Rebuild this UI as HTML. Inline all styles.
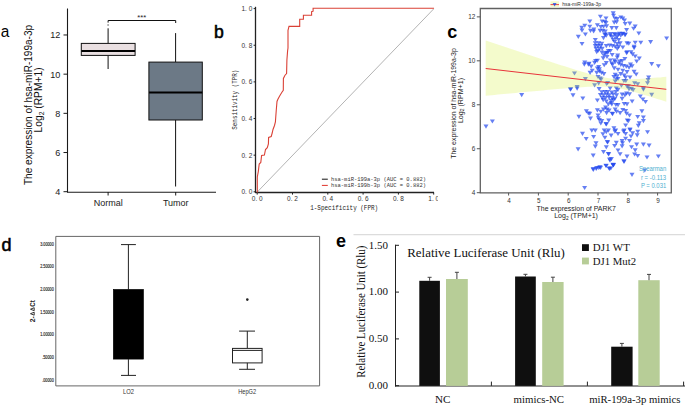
<!DOCTYPE html>
<html><head><meta charset="utf-8"><style>
html,body{margin:0;padding:0;background:#fff;}
body{width:685px;height:407px;overflow:hidden;font-family:"Liberation Sans", sans-serif;}
svg{display:block;}
</style></head><body>
<svg width="685" height="407" viewBox="0 0 685 407">
<rect x="0" y="0" width="685" height="407" fill="#fff"/>
<text x="0.7" y="37.4" font-size="16.9" font-family='"Liberation Sans", sans-serif' fill="#000" textLength="8.6" lengthAdjust="spacingAndGlyphs">a</text>
<line x1="67.5" y1="8.5" x2="67.5" y2="192.2" stroke="#1a1a1a" stroke-width="1.1"/>
<line x1="67" y1="192.2" x2="216" y2="192.2" stroke="#1a1a1a" stroke-width="1.1"/>
<line x1="63.5" y1="191.7" x2="67.5" y2="191.7" stroke="#1a1a1a" stroke-width="1"/>
<text x="60.4" y="195.2" font-size="9.1" font-family='"Liberation Sans", sans-serif' fill="#1a1a1a" text-anchor="end">4</text>
<line x1="63.5" y1="152.51999999999998" x2="67.5" y2="152.51999999999998" stroke="#1a1a1a" stroke-width="1"/>
<text x="60.4" y="156.01999999999998" font-size="9.1" font-family='"Liberation Sans", sans-serif' fill="#1a1a1a" text-anchor="end">6</text>
<line x1="63.5" y1="113.33999999999999" x2="67.5" y2="113.33999999999999" stroke="#1a1a1a" stroke-width="1"/>
<text x="60.4" y="116.83999999999999" font-size="9.1" font-family='"Liberation Sans", sans-serif' fill="#1a1a1a" text-anchor="end">8</text>
<line x1="63.5" y1="74.16" x2="67.5" y2="74.16" stroke="#1a1a1a" stroke-width="1"/>
<text x="60.4" y="77.66" font-size="9.1" font-family='"Liberation Sans", sans-serif' fill="#1a1a1a" text-anchor="end">10</text>
<line x1="63.5" y1="34.97999999999999" x2="67.5" y2="34.97999999999999" stroke="#1a1a1a" stroke-width="1"/>
<text x="60.4" y="38.47999999999999" font-size="9.1" font-family='"Liberation Sans", sans-serif' fill="#1a1a1a" text-anchor="end">12</text>
<line x1="108.1" y1="192" x2="108.1" y2="195.5" stroke="#1a1a1a" stroke-width="1"/>
<line x1="175.7" y1="192" x2="175.7" y2="195.5" stroke="#1a1a1a" stroke-width="1"/>
<text x="108.2" y="206.3" font-size="9" font-family='"Liberation Sans", sans-serif' fill="#222" text-anchor="middle">Normal</text>
<text x="175.8" y="206.3" font-size="9" font-family='"Liberation Sans", sans-serif' fill="#222" text-anchor="middle">Tumor</text>
<line x1="108.1" y1="28.3" x2="108.1" y2="43.3" stroke="#111" stroke-width="1"/>
<line x1="108.1" y1="55.5" x2="108.1" y2="69" stroke="#111" stroke-width="1"/>
<rect x="81.3" y="43.4" width="53.8" height="12" fill="#e9dfe1" stroke="#111" stroke-width="1"/>
<line x1="81.3" y1="51.0" x2="135.1" y2="51.0" stroke="#000" stroke-width="2"/>
<rect x="107.4" y="24.2" width="1.4" height="1.6" fill="#888"/>
<line x1="175.6" y1="33.1" x2="175.6" y2="62" stroke="#111" stroke-width="1"/>
<line x1="175.6" y1="119.7" x2="175.6" y2="186.5" stroke="#111" stroke-width="1"/>
<rect x="148.9" y="62.1" width="53.4" height="57.9" fill="#6c7986" stroke="#111" stroke-width="1"/>
<line x1="149.1" y1="92.4" x2="202.3" y2="92.4" stroke="#000" stroke-width="2"/>
<path d="M108.1,22.6 V20.5 H175.7 V23" fill="none" stroke="#111" stroke-width="1"/>
<text x="141.8" y="20.0" font-size="7.6" font-family='"Liberation Sans", sans-serif' fill="#222" text-anchor="middle">***</text>
<text x="32.1" y="104.95" font-size="10.1" font-family='"Liberation Sans", sans-serif' fill="#111" text-anchor="middle" textLength="160.2" lengthAdjust="spacingAndGlyphs" transform="rotate(-90 32.1 104.95)">The expression of hsa-miR-199a-3p</text>
<text x="41.8" y="99.95" font-size="10.25" font-family='"Liberation Sans", sans-serif' fill="#111" text-anchor="middle" transform="rotate(-90 41.8 99.95)">Log<tspan font-size="6.8" dy="2">2</tspan><tspan dy="-2"> (RPM+1)</tspan></text>
<text x="214.0" y="37.9" font-size="17.6" font-family='"Liberation Sans", sans-serif' fill="#000" stroke="#000" stroke-width="0.55">b</text>
<line x1="257.2" y1="192.10000000000002" x2="433.7" y2="8.900000000000023" stroke="#aaa" stroke-width="0.9"/>
<line x1="255.5" y1="6.8" x2="255.5" y2="193.0" stroke="#222" stroke-width="1.3"/>
<line x1="255.2" y1="192.5" x2="434" y2="192.5" stroke="#222" stroke-width="1.3"/>
<line x1="253.6" y1="191.8" x2="255.5" y2="191.8" stroke="#222" stroke-width="1"/>
<text x="252.3" y="194.20000000000002" font-size="6.8" font-family='"Liberation Sans", sans-serif' fill="#333" text-anchor="end" textLength="10.8" lengthAdjust="spacingAndGlyphs">0. 0</text>
<line x1="257.2" y1="192.5" x2="257.2" y2="194.6" stroke="#222" stroke-width="1"/>
<text x="257.2" y="201.0" font-size="6.8" font-family='"Liberation Sans", sans-serif' fill="#333" text-anchor="middle" textLength="10.8" lengthAdjust="spacingAndGlyphs">0. 0</text>
<line x1="253.6" y1="155.16000000000003" x2="255.5" y2="155.16000000000003" stroke="#222" stroke-width="1"/>
<text x="252.3" y="157.56000000000003" font-size="6.8" font-family='"Liberation Sans", sans-serif' fill="#333" text-anchor="end" textLength="10.8" lengthAdjust="spacingAndGlyphs">0. 2</text>
<line x1="292.5" y1="192.5" x2="292.5" y2="194.6" stroke="#222" stroke-width="1"/>
<text x="292.5" y="201.0" font-size="6.8" font-family='"Liberation Sans", sans-serif' fill="#333" text-anchor="middle" textLength="10.8" lengthAdjust="spacingAndGlyphs">0. 2</text>
<line x1="253.6" y1="118.52000000000001" x2="255.5" y2="118.52000000000001" stroke="#222" stroke-width="1"/>
<text x="252.3" y="120.92000000000002" font-size="6.8" font-family='"Liberation Sans", sans-serif' fill="#333" text-anchor="end" textLength="10.8" lengthAdjust="spacingAndGlyphs">0. 4</text>
<line x1="327.8" y1="192.5" x2="327.8" y2="194.6" stroke="#222" stroke-width="1"/>
<text x="327.8" y="201.0" font-size="6.8" font-family='"Liberation Sans", sans-serif' fill="#333" text-anchor="middle" textLength="10.8" lengthAdjust="spacingAndGlyphs">0. 4</text>
<line x1="253.6" y1="81.88000000000002" x2="255.5" y2="81.88000000000002" stroke="#222" stroke-width="1"/>
<text x="252.3" y="84.28000000000003" font-size="6.8" font-family='"Liberation Sans", sans-serif' fill="#333" text-anchor="end" textLength="10.8" lengthAdjust="spacingAndGlyphs">0. 6</text>
<line x1="363.09999999999997" y1="192.5" x2="363.09999999999997" y2="194.6" stroke="#222" stroke-width="1"/>
<text x="363.09999999999997" y="201.0" font-size="6.8" font-family='"Liberation Sans", sans-serif' fill="#333" text-anchor="middle" textLength="10.8" lengthAdjust="spacingAndGlyphs">0. 6</text>
<line x1="253.6" y1="45.24000000000001" x2="255.5" y2="45.24000000000001" stroke="#222" stroke-width="1"/>
<text x="252.3" y="47.64000000000001" font-size="6.8" font-family='"Liberation Sans", sans-serif' fill="#333" text-anchor="end" textLength="10.8" lengthAdjust="spacingAndGlyphs">0. 8</text>
<line x1="398.4" y1="192.5" x2="398.4" y2="194.6" stroke="#222" stroke-width="1"/>
<text x="398.4" y="201.0" font-size="6.8" font-family='"Liberation Sans", sans-serif' fill="#333" text-anchor="middle" textLength="10.8" lengthAdjust="spacingAndGlyphs">0. 8</text>
<line x1="253.6" y1="8.600000000000023" x2="255.5" y2="8.600000000000023" stroke="#222" stroke-width="1"/>
<text x="252.3" y="11.000000000000023" font-size="6.8" font-family='"Liberation Sans", sans-serif' fill="#333" text-anchor="end" textLength="10.8" lengthAdjust="spacingAndGlyphs">1. 0</text>
<line x1="433.7" y1="192.5" x2="433.7" y2="194.6" stroke="#222" stroke-width="1"/>
<text x="433.7" y="201.0" font-size="6.8" font-family='"Liberation Sans", sans-serif' fill="#333" text-anchor="middle" textLength="10.8" lengthAdjust="spacingAndGlyphs">1. 0</text>
<text x="344.2" y="210.0" font-size="7.8" font-family='"Liberation Mono", monospace' fill="#222" text-anchor="middle" textLength="68" lengthAdjust="spacingAndGlyphs">1-Specificity (FPR)</text>
<text x="236.9" y="99.7" font-size="7.8" font-family='"Liberation Mono", monospace' fill="#222" text-anchor="middle" textLength="60" lengthAdjust="spacingAndGlyphs" transform="rotate(-90 236.9 99.7)">Sensitivity (TPR)</text>
<path d="M257.3,192.5 L257.3,177 L258.3,171.6 L259.2,164 L260.8,162.4 L261.6,155.5 L264.4,155 L265.5,149.5 L267.3,147.6 L268.4,144 L268.6,137.5 L271.2,136.5 L272.2,133 L273,129.5 L274.5,125.5 L275.4,122 L276.2,111 L277,101.5 L277.9,99.2 L279.5,96.2 L281.9,92.3 L283.3,90.3 L283.4,78.5 L285,75.2 L286.6,73.6 L286.9,60 L287.6,50.9 L288,48 L288,30.3 L289,26.4 L299.7,26.4 L299.7,19.3 L303.4,19.3 L303.4,15.3 L311.6,15.3 L311.6,11.6 L313.1,11.2 L313.1,8.3 L434,8.3" fill="none" stroke="#da4136" stroke-width="1.1"/>
<line x1="321.9" y1="179.2" x2="327.8" y2="179.2" stroke="#111" stroke-width="1"/>
<line x1="321.9" y1="185.4" x2="327.8" y2="185.4" stroke="#e0332a" stroke-width="1"/>
<text x="331" y="181.3" font-size="5.8" font-family='"Liberation Mono", monospace' fill="#333" textLength="95" lengthAdjust="spacingAndGlyphs">hsa-miR-199a-3p (AUC = 0.882)</text>
<text x="331" y="187.4" font-size="5.8" font-family='"Liberation Mono", monospace' fill="#333" textLength="95" lengthAdjust="spacingAndGlyphs">hsa-miR-199b-3p (AUC = 0.882)</text>
<rect x="437.8" y="0" width="247.2" height="232" fill="#fff" stroke="none" stroke-width="1"/>
<line x1="353.5" y1="234.6" x2="685" y2="234.6" stroke="#dcdcdc" stroke-width="1.2"/>
<g fill="#2449ee" fill-opacity="0.7"><path d="M582.3,23.7h5l-2.5,4.1z"/><path d="M579.2,25.7h5l-2.5,4.1z"/><path d="M579.5,28.6h5l-2.5,4.1z"/><path d="M582.9,32.4h5l-2.5,4.1z"/><path d="M575.8,34.8h5l-2.5,4.1z"/><path d="M579.5,42.0h5l-2.5,4.1z"/><path d="M627.3,21.6h5l-2.5,4.1z"/><path d="M632.7,24.5h5l-2.5,4.1z"/><path d="M631.1,26.7h5l-2.5,4.1z"/><path d="M636.3,31.4h5l-2.5,4.1z"/><path d="M664.1,36.5h5l-2.5,4.1z"/><path d="M648.1,40.1h5l-2.5,4.1z"/><path d="M638.3,40.7h5l-2.5,4.1z"/><path d="M632.7,40.7h5l-2.5,4.1z"/><path d="M626.3,41.7h5l-2.5,4.1z"/><path d="M631.6,44.8h5l-2.5,4.1z"/><path d="M582.3,60.6h5l-2.5,4.1z"/><path d="M581.8,62.6h5l-2.5,4.1z"/><path d="M585.9,62.6h5l-2.5,4.1z"/><path d="M572.0,71.4h5l-2.5,4.1z"/><path d="M582.9,77.1h5l-2.5,4.1z"/><path d="M574.6,85.1h5l-2.5,4.1z"/><path d="M568.2,87.2h5l-2.5,4.1z"/><path d="M631.6,46.1h5l-2.5,4.1z"/><path d="M628.5,50.2h5l-2.5,4.1z"/><path d="M630.1,52.3h5l-2.5,4.1z"/><path d="M632.7,54.4h5l-2.5,4.1z"/><path d="M636.8,56.4h5l-2.5,4.1z"/><path d="M634.2,59.5h5l-2.5,4.1z"/><path d="M628.0,62.6h5l-2.5,4.1z"/><path d="M629.6,64.2h5l-2.5,4.1z"/><path d="M626.5,65.7h5l-2.5,4.1z"/><path d="M649.2,62.1h5l-2.5,4.1z"/><path d="M655.9,64.2h5l-2.5,4.1z"/><path d="M631.6,69.8h5l-2.5,4.1z"/><path d="M633.7,72.4h5l-2.5,4.1z"/><path d="M627.5,75.5h5l-2.5,4.1z"/><path d="M646.1,75.5h5l-2.5,4.1z"/><path d="M645.6,78.1h5l-2.5,4.1z"/><path d="M632.1,81.2h5l-2.5,4.1z"/><path d="M635.2,82.2h5l-2.5,4.1z"/><path d="M645.0,81.2h5l-2.5,4.1z"/><path d="M625.9,84.3h5l-2.5,4.1z"/><path d="M629.0,86.8h5l-2.5,4.1z"/><path d="M640.9,86.3h5l-2.5,4.1z"/><path d="M567.9,87.6h5l-2.5,4.1z"/><path d="M574.6,86.6h5l-2.5,4.1z"/><path d="M570.5,93.3h5l-2.5,4.1z"/><path d="M580.3,96.4h5l-2.5,4.1z"/><path d="M583.9,109.3h5l-2.5,4.1z"/><path d="M585.9,111.4h5l-2.5,4.1z"/><path d="M576.4,114.8h5l-2.5,4.1z"/><path d="M626.5,87.1h5l-2.5,4.1z"/><path d="M630.6,88.1h5l-2.5,4.1z"/><path d="M640.9,87.6h5l-2.5,4.1z"/><path d="M649.2,92.8h5l-2.5,4.1z"/><path d="M627.0,92.3h5l-2.5,4.1z"/><path d="M637.8,94.4h5l-2.5,4.1z"/><path d="M640.4,97.4h5l-2.5,4.1z"/><path d="M643.0,100.0h5l-2.5,4.1z"/><path d="M629.6,99.5h5l-2.5,4.1z"/><path d="M627.0,113.4h5l-2.5,4.1z"/><path d="M639.4,109.3h5l-2.5,4.1z"/><path d="M635.2,115.0h5l-2.5,4.1z"/><path d="M640.9,115.5h5l-2.5,4.1z"/><path d="M640.9,119.1h5l-2.5,4.1z"/><path d="M625.9,119.1h5l-2.5,4.1z"/><path d="M636.8,121.2h5l-2.5,4.1z"/><path d="M635.8,123.8h5l-2.5,4.1z"/><path d="M627.5,127.4h5l-2.5,4.1z"/><path d="M580.0,131.8h5l-2.5,4.1z"/><path d="M583.7,136.9h5l-2.5,4.1z"/><path d="M575.6,147.3h5l-2.5,4.1z"/><path d="M607.1,157.6h5l-2.5,4.1z"/><path d="M603.5,163.8h5l-2.5,4.1z"/><path d="M606.6,166.4h5l-2.5,4.1z"/><path d="M610.7,162.8h5l-2.5,4.1z"/><path d="M590.6,166.9h5l-2.5,4.1z"/><path d="M594.2,165.9h5l-2.5,4.1z"/><path d="M597.3,165.3h5l-2.5,4.1z"/><path d="M627.5,128.2h5l-2.5,4.1z"/><path d="M630.1,131.3h5l-2.5,4.1z"/><path d="M628.5,134.4h5l-2.5,4.1z"/><path d="M635.2,129.7h5l-2.5,4.1z"/><path d="M634.7,133.3h5l-2.5,4.1z"/><path d="M645.0,130.2h5l-2.5,4.1z"/><path d="M627.0,139.0h5l-2.5,4.1z"/><path d="M634.2,142.6h5l-2.5,4.1z"/><path d="M640.9,142.6h5l-2.5,4.1z"/><path d="M646.6,143.6h5l-2.5,4.1z"/><path d="M629.0,145.2h5l-2.5,4.1z"/><path d="M632.7,148.3h5l-2.5,4.1z"/><path d="M632.1,152.4h5l-2.5,4.1z"/><path d="M635.2,154.0h5l-2.5,4.1z"/><path d="M644.5,155.5h5l-2.5,4.1z"/><path d="M655.9,154.5h5l-2.5,4.1z"/><path d="M621.3,159.6h5l-2.5,4.1z"/><path d="M608.9,157.1h5l-2.5,4.1z"/><path d="M610.5,163.2h5l-2.5,4.1z"/><path d="M590.8,167.9h5l-2.5,4.1z"/><path d="M593.7,167.0h5l-2.5,4.1z"/><path d="M596.2,166.0h5l-2.5,4.1z"/><path d="M598.1,165.8h5l-2.5,4.1z"/><path d="M603.6,164.0h5l-2.5,4.1z"/><path d="M607.0,167.0h5l-2.5,4.1z"/><path d="M610.9,163.5h5l-2.5,4.1z"/><path d="M607.5,158.6h5l-2.5,4.1z"/><path d="M582.1,185.9h5l-2.5,4.1z"/><path d="M621.7,159.6h5l-2.5,4.1z"/><path d="M610.9,163.0h5l-2.5,4.1z"/><path d="M608.4,166.5h5l-2.5,4.1z"/><path d="M629.5,172.8h5l-2.5,4.1z"/><path d="M642.3,168.4h5l-2.5,4.1z"/><path d="M483.5,124.6h5l-2.5,4.1z"/><path d="M489.9,119.4h5l-2.5,4.1z"/><path d="M519.2,93.1h5l-2.5,4.1z"/><path d="M587.3,19.5h5l-2.5,4.1z"/><path d="M587.3,24.7h5l-2.5,4.1z"/><path d="M588.0,28.8h5l-2.5,4.1z"/><path d="M591.4,27.4h5l-2.5,4.1z"/><path d="M591.1,29.5h5l-2.5,4.1z"/><path d="M597.9,14.7h5l-2.5,4.1z"/><path d="M603.5,16.4h5l-2.5,4.1z"/><path d="M599.7,19.5h5l-2.5,4.1z"/><path d="M602.4,19.9h5l-2.5,4.1z"/><path d="M603.5,20.9h5l-2.5,4.1z"/><path d="M594.9,23.3h5l-2.5,4.1z"/><path d="M598.3,25.0h5l-2.5,4.1z"/><path d="M601.0,24.7h5l-2.5,4.1z"/><path d="M604.1,24.3h5l-2.5,4.1z"/><path d="M597.6,28.8h5l-2.5,4.1z"/><path d="M600.4,28.8h5l-2.5,4.1z"/><path d="M602.8,29.5h5l-2.5,4.1z"/><path d="M602.8,32.3h5l-2.5,4.1z"/><path d="M610.7,11.3h5l-2.5,4.1z"/><path d="M611.0,13.7h5l-2.5,4.1z"/><path d="M612.4,16.4h5l-2.5,4.1z"/><path d="M611.7,20.6h5l-2.5,4.1z"/><path d="M614.1,20.2h5l-2.5,4.1z"/><path d="M614.8,17.1h5l-2.5,4.1z"/><path d="M618.3,15.4h5l-2.5,4.1z"/><path d="M620.3,16.4h5l-2.5,4.1z"/><path d="M622.0,18.5h5l-2.5,4.1z"/><path d="M622.7,21.9h5l-2.5,4.1z"/><path d="M609.3,26.1h5l-2.5,4.1z"/><path d="M613.8,26.1h5l-2.5,4.1z"/><path d="M624.1,28.1h5l-2.5,4.1z"/><path d="M607.9,32.1h5l-2.5,4.1z"/><path d="M611.9,31.9h5l-2.5,4.1z"/><path d="M615.9,32.4h5l-2.5,4.1z"/><path d="M619.9,31.9h5l-2.5,4.1z"/><path d="M622.9,32.6h5l-2.5,4.1z"/><path d="M603.9,33.6h5l-2.5,4.1z"/><path d="M602.4,33.1h5l-2.5,4.1z"/><path d="M601.0,36.1h5l-2.5,4.1z"/><path d="M607.9,33.6h5l-2.5,4.1z"/><path d="M609.7,35.1h5l-2.5,4.1z"/><path d="M612.7,32.9h5l-2.5,4.1z"/><path d="M614.8,34.4h5l-2.5,4.1z"/><path d="M616.9,31.7h5l-2.5,4.1z"/><path d="M618.3,33.7h5l-2.5,4.1z"/><path d="M620.3,31.7h5l-2.5,4.1z"/><path d="M622.4,33.1h5l-2.5,4.1z"/><path d="M613.4,36.5h5l-2.5,4.1z"/><path d="M610.7,37.9h5l-2.5,4.1z"/><path d="M616.2,37.9h5l-2.5,4.1z"/><path d="M592.8,37.9h5l-2.5,4.1z"/><path d="M592.8,41.3h5l-2.5,4.1z"/><path d="M596.2,41.3h5l-2.5,4.1z"/><path d="M599.3,41.7h5l-2.5,4.1z"/><path d="M592.8,44.1h5l-2.5,4.1z"/><path d="M595.5,44.1h5l-2.5,4.1z"/><path d="M598.3,44.1h5l-2.5,4.1z"/><path d="M593.5,46.8h5l-2.5,4.1z"/><path d="M596.9,46.8h5l-2.5,4.1z"/><path d="M599.7,46.8h5l-2.5,4.1z"/><path d="M595.5,48.9h5l-2.5,4.1z"/><path d="M603.8,44.1h5l-2.5,4.1z"/><path d="M607.2,43.4h5l-2.5,4.1z"/><path d="M610.0,44.1h5l-2.5,4.1z"/><path d="M612.7,44.8h5l-2.5,4.1z"/><path d="M614.8,42.0h5l-2.5,4.1z"/><path d="M617.6,41.3h5l-2.5,4.1z"/><path d="M616.2,44.8h5l-2.5,4.1z"/><path d="M620.3,45.4h5l-2.5,4.1z"/><path d="M612.1,39.9h5l-2.5,4.1z"/><path d="M614.8,46.8h5l-2.5,4.1z"/><path d="M605.9,48.9h5l-2.5,4.1z"/><path d="M607.9,48.9h5l-2.5,4.1z"/><path d="M603.8,51.0h5l-2.5,4.1z"/><path d="M624.5,41.3h5l-2.5,4.1z"/><path d="M624.5,50.3h5l-2.5,4.1z"/><path d="M594.2,50.1h5l-2.5,4.1z"/><path d="M599.3,50.4h5l-2.5,4.1z"/><path d="M602.4,51.5h5l-2.5,4.1z"/><path d="M605.2,50.8h5l-2.5,4.1z"/><path d="M601.4,53.5h5l-2.5,4.1z"/><path d="M604.5,54.9h5l-2.5,4.1z"/><path d="M600.7,56.3h5l-2.5,4.1z"/><path d="M609.7,52.9h5l-2.5,4.1z"/><path d="M615.2,53.5h5l-2.5,4.1z"/><path d="M614.8,55.6h5l-2.5,4.1z"/><path d="M624.1,51.1h5l-2.5,4.1z"/><path d="M622.4,57.0h5l-2.5,4.1z"/><path d="M593.1,59.1h5l-2.5,4.1z"/><path d="M592.1,60.8h5l-2.5,4.1z"/><path d="M594.9,58.7h5l-2.5,4.1z"/><path d="M607.9,58.4h5l-2.5,4.1z"/><path d="M612.1,58.4h5l-2.5,4.1z"/><path d="M612.7,60.1h5l-2.5,4.1z"/><path d="M609.3,61.5h5l-2.5,4.1z"/><path d="M617.2,59.4h5l-2.5,4.1z"/><path d="M619.6,59.1h5l-2.5,4.1z"/><path d="M616.2,61.5h5l-2.5,4.1z"/><path d="M603.8,61.1h5l-2.5,4.1z"/><path d="M601.7,63.2h5l-2.5,4.1z"/><path d="M586.6,61.8h5l-2.5,4.1z"/><path d="M588.7,64.6h5l-2.5,4.1z"/><path d="M610.0,62.8h5l-2.5,4.1z"/><path d="M611.7,66.3h5l-2.5,4.1z"/><path d="M618.3,62.8h5l-2.5,4.1z"/><path d="M621.0,63.9h5l-2.5,4.1z"/><path d="M623.8,64.6h5l-2.5,4.1z"/><path d="M596.2,64.9h5l-2.5,4.1z"/><path d="M594.9,66.6h5l-2.5,4.1z"/><path d="M596.9,67.3h5l-2.5,4.1z"/><path d="M596.9,69.4h5l-2.5,4.1z"/><path d="M599.0,70.8h5l-2.5,4.1z"/><path d="M601.4,72.1h5l-2.5,4.1z"/><path d="M589.7,68.7h5l-2.5,4.1z"/><path d="M587.6,70.8h5l-2.5,4.1z"/><path d="M594.2,70.8h5l-2.5,4.1z"/><path d="M615.5,67.7h5l-2.5,4.1z"/><path d="M620.3,68.7h5l-2.5,4.1z"/><path d="M624.5,70.1h5l-2.5,4.1z"/><path d="M612.7,72.8h5l-2.5,4.1z"/><path d="M611.4,74.9h5l-2.5,4.1z"/><path d="M614.8,74.2h5l-2.5,4.1z"/><path d="M618.3,72.1h5l-2.5,4.1z"/><path d="M621.7,73.5h5l-2.5,4.1z"/><path d="M623.1,75.6h5l-2.5,4.1z"/><path d="M595.5,74.9h5l-2.5,4.1z"/><path d="M597.6,76.6h5l-2.5,4.1z"/><path d="M615.5,77.0h5l-2.5,4.1z"/><path d="M598.6,77.5h5l-2.5,4.1z"/><path d="M596.2,81.3h5l-2.5,4.1z"/><path d="M592.1,83.3h5l-2.5,4.1z"/><path d="M605.2,80.9h5l-2.5,4.1z"/><path d="M604.1,82.0h5l-2.5,4.1z"/><path d="M613.8,77.5h5l-2.5,4.1z"/><path d="M612.7,79.5h5l-2.5,4.1z"/><path d="M621.4,78.9h5l-2.5,4.1z"/><path d="M623.4,78.9h5l-2.5,4.1z"/><path d="M618.9,83.7h5l-2.5,4.1z"/><path d="M624.5,84.4h5l-2.5,4.1z"/><path d="M596.6,87.1h5l-2.5,4.1z"/><path d="M607.6,86.4h5l-2.5,4.1z"/><path d="M613.8,86.4h5l-2.5,4.1z"/><path d="M615.5,87.8h5l-2.5,4.1z"/><path d="M599.3,90.2h5l-2.5,4.1z"/><path d="M602.4,89.9h5l-2.5,4.1z"/><path d="M605.2,89.9h5l-2.5,4.1z"/><path d="M609.3,90.6h5l-2.5,4.1z"/><path d="M613.4,89.9h5l-2.5,4.1z"/><path d="M597.9,93.0h5l-2.5,4.1z"/><path d="M601.0,93.3h5l-2.5,4.1z"/><path d="M604.1,92.6h5l-2.5,4.1z"/><path d="M606.6,93.3h5l-2.5,4.1z"/><path d="M610.7,92.6h5l-2.5,4.1z"/><path d="M614.1,93.3h5l-2.5,4.1z"/><path d="M599.7,96.1h5l-2.5,4.1z"/><path d="M603.1,96.1h5l-2.5,4.1z"/><path d="M606.6,95.7h5l-2.5,4.1z"/><path d="M609.7,96.1h5l-2.5,4.1z"/><path d="M612.4,96.8h5l-2.5,4.1z"/><path d="M600.7,98.1h5l-2.5,4.1z"/><path d="M603.8,99.5h5l-2.5,4.1z"/><path d="M608.6,98.8h5l-2.5,4.1z"/><path d="M611.0,98.1h5l-2.5,4.1z"/><path d="M608.6,100.9h5l-2.5,4.1z"/><path d="M605.9,102.3h5l-2.5,4.1z"/><path d="M613.4,102.9h5l-2.5,4.1z"/><path d="M594.9,98.5h5l-2.5,4.1z"/><path d="M619.6,92.6h5l-2.5,4.1z"/><path d="M622.4,93.3h5l-2.5,4.1z"/><path d="M624.1,91.6h5l-2.5,4.1z"/><path d="M619.6,96.8h5l-2.5,4.1z"/><path d="M621.7,101.9h5l-2.5,4.1z"/><path d="M624.5,102.3h5l-2.5,4.1z"/><path d="M609.3,102.4h5l-2.5,4.1z"/><path d="M615.5,103.1h5l-2.5,4.1z"/><path d="M603.1,105.5h5l-2.5,4.1z"/><path d="M601.0,107.6h5l-2.5,4.1z"/><path d="M604.5,107.6h5l-2.5,4.1z"/><path d="M606.6,108.6h5l-2.5,4.1z"/><path d="M594.9,108.3h5l-2.5,4.1z"/><path d="M598.3,109.7h5l-2.5,4.1z"/><path d="M604.1,111.1h5l-2.5,4.1z"/><path d="M609.7,111.7h5l-2.5,4.1z"/><path d="M610.1,112.1h5l-2.5,4.1z"/><path d="M612.7,107.6h5l-2.5,4.1z"/><path d="M614.1,109.7h5l-2.5,4.1z"/><path d="M617.6,111.1h5l-2.5,4.1z"/><path d="M620.3,108.0h5l-2.5,4.1z"/><path d="M623.1,109.0h5l-2.5,4.1z"/><path d="M624.1,111.7h5l-2.5,4.1z"/><path d="M587.3,111.7h5l-2.5,4.1z"/><path d="M588.0,116.6h5l-2.5,4.1z"/><path d="M595.5,113.5h5l-2.5,4.1z"/><path d="M595.9,116.2h5l-2.5,4.1z"/><path d="M596.9,117.9h5l-2.5,4.1z"/><path d="M599.3,119.0h5l-2.5,4.1z"/><path d="M598.3,121.4h5l-2.5,4.1z"/><path d="M606.2,118.6h5l-2.5,4.1z"/><path d="M603.5,122.1h5l-2.5,4.1z"/><path d="M603.9,122.5h5l-2.5,4.1z"/><path d="M623.1,123.4h5l-2.5,4.1z"/><path d="M624.8,118.6h5l-2.5,4.1z"/><path d="M611.4,126.2h5l-2.5,4.1z"/><path d="M613.1,128.6h5l-2.5,4.1z"/><path d="M589.3,128.6h5l-2.5,4.1z"/><path d="M592.8,128.6h5l-2.5,4.1z"/><path d="M601.7,128.6h5l-2.5,4.1z"/><path d="M605.9,128.6h5l-2.5,4.1z"/><path d="M621.7,128.6h5l-2.5,4.1z"/><path d="M603.8,130.2h5l-2.5,4.1z"/><path d="M612.4,129.6h5l-2.5,4.1z"/><path d="M615.5,131.9h5l-2.5,4.1z"/><path d="M621.0,129.6h5l-2.5,4.1z"/><path d="M623.1,131.9h5l-2.5,4.1z"/><path d="M600.4,132.2h5l-2.5,4.1z"/><path d="M608.6,133.6h5l-2.5,4.1z"/><path d="M591.1,135.0h5l-2.5,4.1z"/><path d="M602.4,135.7h5l-2.5,4.1z"/><path d="M623.1,136.7h5l-2.5,4.1z"/><path d="M604.8,140.1h5l-2.5,4.1z"/><path d="M605.1,140.5h5l-2.5,4.1z"/><path d="M593.5,141.2h5l-2.5,4.1z"/><path d="M592.8,144.6h5l-2.5,4.1z"/><path d="M613.8,140.8h5l-2.5,4.1z"/><path d="M612.1,143.9h5l-2.5,4.1z"/><path d="M619.6,139.1h5l-2.5,4.1z"/><path d="M620.0,141.2h5l-2.5,4.1z"/><path d="M619.6,144.3h5l-2.5,4.1z"/><path d="M603.8,145.3h5l-2.5,4.1z"/><path d="M601.0,150.1h5l-2.5,4.1z"/><path d="M605.9,151.9h5l-2.5,4.1z"/><path d="M606.2,152.3h5l-2.5,4.1z"/><path d="M615.5,148.4h5l-2.5,4.1z"/><path d="M617.6,152.2h5l-2.5,4.1z"/><path d="M590.7,153.6h5l-2.5,4.1z"/><path d="M624.5,154.6h5l-2.5,4.1z"/></g>
<path d="M485.7,40.6 L488.7,41.6 L491.7,42.6 L494.7,43.6 L497.7,44.6 L500.8,45.6 L503.8,46.6 L506.8,47.6 L509.8,48.6 L512.8,49.6 L515.8,50.5 L518.8,51.5 L521.8,52.5 L524.8,53.5 L527.8,54.5 L530.9,55.5 L533.9,56.5 L536.9,57.4 L539.9,58.4 L542.9,59.4 L545.9,60.4 L548.9,61.3 L551.9,62.3 L554.9,63.3 L557.9,64.2 L560.9,65.2 L564.0,66.1 L567.0,67.1 L570.0,68.0 L573.0,69.0 L576.0,69.9 L579.0,70.8 L582.0,71.7 L585.0,72.6 L588.0,73.5 L591.0,74.3 L594.1,75.1 L597.1,75.9 L600.1,76.6 L603.1,77.3 L606.1,77.8 L609.1,78.3 L612.1,78.7 L615.1,79.0 L618.1,79.2 L621.1,79.3 L624.2,79.4 L627.2,79.4 L630.2,79.3 L633.2,79.2 L636.2,79.1 L639.2,78.9 L642.2,78.7 L645.2,78.5 L648.2,78.3 L651.2,78.1 L654.3,77.8 L657.3,77.6 L660.3,77.4 L663.3,77.1 L666.3,76.8 L666.3,101.8 L663.3,100.8 L660.3,99.8 L657.3,98.9 L654.3,97.9 L651.2,97.0 L648.2,96.1 L645.2,95.2 L642.2,94.3 L639.2,93.4 L636.2,92.5 L633.2,91.7 L630.2,90.9 L627.2,90.1 L624.2,89.4 L621.1,88.7 L618.1,88.1 L615.1,87.6 L612.1,87.2 L609.1,86.9 L606.1,86.7 L603.1,86.6 L600.1,86.5 L597.1,86.5 L594.1,86.6 L591.0,86.7 L588.0,86.8 L585.0,87.0 L582.0,87.2 L579.0,87.4 L576.0,87.6 L573.0,87.8 L570.0,88.1 L567.0,88.3 L564.0,88.5 L560.9,88.8 L557.9,89.0 L554.9,89.3 L551.9,89.6 L548.9,89.8 L545.9,90.1 L542.9,90.4 L539.9,90.7 L536.9,90.9 L533.9,91.2 L530.9,91.5 L527.8,91.8 L524.8,92.0 L521.8,92.3 L518.8,92.6 L515.8,92.9 L512.8,93.2 L509.8,93.5 L506.8,93.7 L503.8,94.0 L500.8,94.3 L497.7,94.6 L494.7,94.9 L491.7,95.2 L488.7,95.5 L485.7,95.8 Z" fill="rgb(211,239,51)" fill-opacity="0.25"/>
<line x1="485.7" y1="68.5" x2="666.3" y2="89.3" stroke="#e8333a" stroke-width="1"/>
<path d="M480.3,8.5 H671.3 V192.8 H480.3 Z" fill="none" stroke="#606060" stroke-width="1.3"/>
<line x1="476.8" y1="192.7" x2="480.3" y2="192.7" stroke="#555" stroke-width="1"/>
<text x="475.3" y="195.0" font-size="6.4" font-family='"Liberation Sans", sans-serif' fill="#333" text-anchor="end">4</text>
<line x1="476.8" y1="148.73999999999998" x2="480.3" y2="148.73999999999998" stroke="#555" stroke-width="1"/>
<text x="475.3" y="151.04" font-size="6.4" font-family='"Liberation Sans", sans-serif' fill="#333" text-anchor="end">6</text>
<line x1="476.8" y1="104.77999999999999" x2="480.3" y2="104.77999999999999" stroke="#555" stroke-width="1"/>
<text x="475.3" y="107.07999999999998" font-size="6.4" font-family='"Liberation Sans", sans-serif' fill="#333" text-anchor="end">8</text>
<line x1="476.8" y1="60.81999999999999" x2="480.3" y2="60.81999999999999" stroke="#555" stroke-width="1"/>
<text x="475.3" y="63.11999999999999" font-size="6.4" font-family='"Liberation Sans", sans-serif' fill="#333" text-anchor="end">10</text>
<line x1="476.8" y1="16.859999999999985" x2="480.3" y2="16.859999999999985" stroke="#555" stroke-width="1"/>
<text x="475.3" y="19.159999999999986" font-size="6.4" font-family='"Liberation Sans", sans-serif' fill="#333" text-anchor="end">12</text>
<line x1="508.6" y1="192.8" x2="508.6" y2="195.5" stroke="#555" stroke-width="1"/>
<text x="509.1" y="202.7" font-size="6.4" font-family='"Liberation Sans", sans-serif' fill="#333" text-anchor="middle">4</text>
<line x1="538.4" y1="192.8" x2="538.4" y2="195.5" stroke="#555" stroke-width="1"/>
<text x="538.9" y="202.7" font-size="6.4" font-family='"Liberation Sans", sans-serif' fill="#333" text-anchor="middle">5</text>
<line x1="568.2" y1="192.8" x2="568.2" y2="195.5" stroke="#555" stroke-width="1"/>
<text x="568.7" y="202.7" font-size="6.4" font-family='"Liberation Sans", sans-serif' fill="#333" text-anchor="middle">6</text>
<line x1="598.0" y1="192.8" x2="598.0" y2="195.5" stroke="#555" stroke-width="1"/>
<text x="598.5" y="202.7" font-size="6.4" font-family='"Liberation Sans", sans-serif' fill="#333" text-anchor="middle">7</text>
<line x1="627.8000000000001" y1="192.8" x2="627.8000000000001" y2="195.5" stroke="#555" stroke-width="1"/>
<text x="628.3000000000001" y="202.7" font-size="6.4" font-family='"Liberation Sans", sans-serif' fill="#333" text-anchor="middle">8</text>
<line x1="657.6" y1="192.8" x2="657.6" y2="195.5" stroke="#555" stroke-width="1"/>
<text x="658.1" y="202.7" font-size="6.4" font-family='"Liberation Sans", sans-serif' fill="#333" text-anchor="middle">9</text>
<text x="576.3" y="211.1" font-size="7.0" font-family='"Liberation Sans", sans-serif' fill="#222" text-anchor="middle" textLength="79.4" lengthAdjust="spacingAndGlyphs">The expression of PARK7</text>
<text x="576.1" y="217.9" font-size="7.0" font-family='"Liberation Sans", sans-serif' fill="#222" text-anchor="middle">Log<tspan font-size="4.8" dy="1.6">2</tspan><tspan dy="-1.6"> (TPM+1)</tspan></text>
<text x="455.9" y="103.45" font-size="7.1" font-family='"Liberation Sans", sans-serif' fill="#222" text-anchor="middle" textLength="110.6" lengthAdjust="spacingAndGlyphs" transform="rotate(-90 455.9 103.45)">The expression of hsa-miR-199a-3p</text>
<text x="462.8" y="100.55" font-size="7.1" font-family='"Liberation Sans", sans-serif' fill="#222" text-anchor="middle" transform="rotate(-90 462.8 100.55)">Log<tspan font-size="4.9" dy="1.6">2</tspan><tspan dy="-1.6"> (RPM+1)</tspan></text>
<text x="447.2" y="38.2" font-size="18" font-family='"Liberation Sans", sans-serif' fill="#000" font-weight="bold">c</text>
<text x="666.2" y="171.1" font-size="6.3" font-family='"Liberation Sans", sans-serif' fill="#4fb0d0" text-anchor="end" textLength="27.3" lengthAdjust="spacingAndGlyphs">Spearman</text>
<text x="666.2" y="179.7" font-size="6.3" font-family='"Liberation Sans", sans-serif' fill="#4fb0d0" text-anchor="end" textLength="25.3" lengthAdjust="spacingAndGlyphs">r = -0.113</text>
<text x="666.2" y="188.3" font-size="6.3" font-family='"Liberation Sans", sans-serif' fill="#4fb0d0" text-anchor="end" textLength="25.3" lengthAdjust="spacingAndGlyphs">P = 0.031</text>
<rect x="550.5" y="1.3" width="8.5" height="6" fill="#f4fbcc" stroke="none" stroke-width="1"/>
<line x1="550.5" y1="4.6" x2="559" y2="4.6" stroke="#e8333a" stroke-width="0.9"/>
<path d="M552.6,2.9h4l-2,3.5z" fill="#2149ee" fill-opacity="0.82"/>
<text x="562.3" y="6.3" font-size="5.0" font-family='"Liberation Sans", sans-serif' fill="#333" textLength="38.8" lengthAdjust="spacingAndGlyphs">hsa-miR-199a-3p</text>
<text x="1.4" y="250.5" font-size="18" font-family='"Liberation Sans", sans-serif' fill="#000" stroke="#000" stroke-width="0.55">d</text>
<path d="M55.8,236.4 H319.6 V385.9 H55.8 Z" fill="none" stroke="#666" stroke-width="1"/>
<text x="53.8" y="381.5" font-size="4.7" font-family='"Liberation Sans", sans-serif' fill="#222" text-anchor="end" textLength="11.6" lengthAdjust="spacingAndGlyphs" stroke="#222" stroke-width="0.15">.00000</text>
<text x="53.8" y="358.85" font-size="4.7" font-family='"Liberation Sans", sans-serif' fill="#222" text-anchor="end" textLength="11.6" lengthAdjust="spacingAndGlyphs" stroke="#222" stroke-width="0.15">.50000</text>
<text x="53.8" y="336.2" font-size="4.7" font-family='"Liberation Sans", sans-serif' fill="#222" text-anchor="end" textLength="13.6" lengthAdjust="spacingAndGlyphs" stroke="#222" stroke-width="0.15">1.00000</text>
<text x="53.8" y="313.55" font-size="4.7" font-family='"Liberation Sans", sans-serif' fill="#222" text-anchor="end" textLength="13.6" lengthAdjust="spacingAndGlyphs" stroke="#222" stroke-width="0.15">1.50000</text>
<text x="53.8" y="290.9" font-size="4.7" font-family='"Liberation Sans", sans-serif' fill="#222" text-anchor="end" textLength="13.6" lengthAdjust="spacingAndGlyphs" stroke="#222" stroke-width="0.15">2.00000</text>
<text x="53.8" y="268.25" font-size="4.7" font-family='"Liberation Sans", sans-serif' fill="#222" text-anchor="end" textLength="13.6" lengthAdjust="spacingAndGlyphs" stroke="#222" stroke-width="0.15">2.50000</text>
<text x="53.8" y="245.60000000000002" font-size="4.7" font-family='"Liberation Sans", sans-serif' fill="#222" text-anchor="end" textLength="13.6" lengthAdjust="spacingAndGlyphs" stroke="#222" stroke-width="0.15">3.00000</text>
<g transform="translate(34.6,322.3) rotate(-90)" fill="#222"><text x="0" y="0" font-size="6.8" font-weight="bold" font-family='"Liberation Sans", sans-serif'>2-</text><path d="M7.1,-0.4 L8.6,-4.1 L10.1,-0.4 Z M11.6,-0.4 L13.1,-4.1 L14.6,-0.4 Z" fill="none" stroke="#222" stroke-width="0.9" stroke-linejoin="round"/><text x="15.6" y="0" font-size="6.8" font-weight="bold" font-family='"Liberation Sans", sans-serif' textLength="6.4" lengthAdjust="spacingAndGlyphs">Ct</text></g>
<line x1="128.4" y1="244.6" x2="128.4" y2="289.4" stroke="#222" stroke-width="1"/>
<line x1="121" y1="244.6" x2="135.9" y2="244.6" stroke="#222" stroke-width="1"/>
<rect x="113.3" y="289.4" width="30.2" height="69.7" fill="#000" stroke="#000" stroke-width="0.6"/>
<line x1="128.4" y1="359.1" x2="128.4" y2="375.4" stroke="#222" stroke-width="1"/>
<line x1="121" y1="375.4" x2="136" y2="375.4" stroke="#222" stroke-width="1"/>
<text x="128.5" y="394.0" font-size="6.9" font-family='"Liberation Sans", sans-serif' fill="#333" text-anchor="middle" textLength="11" lengthAdjust="spacingAndGlyphs">LO2</text>
<circle cx="247.3" cy="299.6" r="1.3" fill="#222"/>
<line x1="247.3" y1="331.1" x2="247.3" y2="348.4" stroke="#222" stroke-width="1"/>
<line x1="239.1" y1="331.1" x2="255" y2="331.1" stroke="#222" stroke-width="1"/>
<rect x="232.5" y="348.4" width="29.6" height="14.5" fill="#fff" stroke="#222" stroke-width="1"/>
<line x1="232.5" y1="350.4" x2="262.1" y2="350.4" stroke="#222" stroke-width="1"/>
<line x1="247.3" y1="362.9" x2="247.3" y2="369.3" stroke="#222" stroke-width="1"/>
<line x1="239.1" y1="369.3" x2="255" y2="369.3" stroke="#222" stroke-width="1"/>
<text x="247.2" y="394.0" font-size="6.9" font-family='"Liberation Sans", sans-serif' fill="#333" text-anchor="middle" textLength="18" lengthAdjust="spacingAndGlyphs">HepG2</text>
<text x="335.9" y="247.0" font-size="18" font-family='"Liberation Sans", sans-serif' fill="#000" font-weight="bold">e</text>
<line x1="395.5" y1="244.7" x2="395.5" y2="386.5" stroke="#222" stroke-width="1"/>
<line x1="395" y1="386" x2="685" y2="386" stroke="#222" stroke-width="1"/>
<line x1="395.5" y1="385.7" x2="399" y2="385.7" stroke="#222" stroke-width="1"/>
<text x="387.9" y="389.0" font-size="11" font-family='"Liberation Serif", serif' fill="#111" text-anchor="end">0.00</text>
<line x1="395.5" y1="338.9" x2="399" y2="338.9" stroke="#222" stroke-width="1"/>
<text x="387.9" y="342.2" font-size="11" font-family='"Liberation Serif", serif' fill="#111" text-anchor="end">0.50</text>
<line x1="395.5" y1="292.1" x2="399" y2="292.1" stroke="#222" stroke-width="1"/>
<text x="387.9" y="295.40000000000003" font-size="11" font-family='"Liberation Serif", serif' fill="#111" text-anchor="end">1.00</text>
<line x1="395.5" y1="245.3" x2="399" y2="245.3" stroke="#222" stroke-width="1"/>
<text x="387.9" y="248.60000000000002" font-size="11" font-family='"Liberation Serif", serif' fill="#111" text-anchor="end">1.50</text>
<line x1="491.4" y1="381.6" x2="491.4" y2="385.9" stroke="#222" stroke-width="1"/>
<line x1="587.4" y1="381.6" x2="587.4" y2="385.9" stroke="#222" stroke-width="1"/>
<line x1="683.6" y1="381.6" x2="683.6" y2="385.9" stroke="#222" stroke-width="1"/>
<text x="407.2" y="256.8" font-size="12.9" font-family='"Liberation Serif", serif' fill="#111" textLength="157.6" lengthAdjust="spacingAndGlyphs">Relative Luciferase Unit (Rlu)</text>
<text x="364.7" y="311.7" font-size="12" font-family='"Liberation Serif", serif' fill="#111" text-anchor="middle" textLength="132" lengthAdjust="spacingAndGlyphs" transform="rotate(-90 364.7 311.7)">Relative Luciferase Unit (Rlu)</text>
<rect x="419.3" y="280.8" width="20.599999999999966" height="105.09999999999997" fill="#0f0f0f" stroke="none" stroke-width="1"/>
<line x1="429.6" y1="277.3" x2="429.6" y2="280.8" stroke="#444" stroke-width="1"/>
<line x1="427.6" y1="277.3" x2="431.6" y2="277.3" stroke="#444" stroke-width="1"/>
<rect x="446.0" y="279.0" width="21.80000000000001" height="106.89999999999998" fill="#b7cd97" stroke="none" stroke-width="1"/>
<line x1="456.9" y1="272.3" x2="456.9" y2="279.0" stroke="#444" stroke-width="1"/>
<line x1="454.9" y1="272.3" x2="458.9" y2="272.3" stroke="#444" stroke-width="1"/>
<rect x="515.1" y="276.5" width="20.699999999999932" height="109.39999999999998" fill="#0f0f0f" stroke="none" stroke-width="1"/>
<line x1="525.45" y1="274.3" x2="525.45" y2="276.5" stroke="#444" stroke-width="1"/>
<line x1="523.45" y1="274.3" x2="527.45" y2="274.3" stroke="#444" stroke-width="1"/>
<rect x="542.2" y="282.0" width="21.399999999999977" height="103.89999999999998" fill="#b7cd97" stroke="none" stroke-width="1"/>
<line x1="552.9000000000001" y1="277.2" x2="552.9000000000001" y2="282.0" stroke="#444" stroke-width="1"/>
<line x1="550.9000000000001" y1="277.2" x2="554.9000000000001" y2="277.2" stroke="#444" stroke-width="1"/>
<rect x="611.2" y="346.7" width="21.399999999999977" height="39.19999999999999" fill="#0f0f0f" stroke="none" stroke-width="1"/>
<line x1="621.9000000000001" y1="343.4" x2="621.9000000000001" y2="346.7" stroke="#444" stroke-width="1"/>
<line x1="619.9000000000001" y1="343.4" x2="623.9000000000001" y2="343.4" stroke="#444" stroke-width="1"/>
<rect x="638.3" y="280.2" width="21.40000000000009" height="105.69999999999999" fill="#b7cd97" stroke="none" stroke-width="1"/>
<line x1="649.0" y1="274.4" x2="649.0" y2="280.2" stroke="#444" stroke-width="1"/>
<line x1="647.0" y1="274.4" x2="651.0" y2="274.4" stroke="#444" stroke-width="1"/>
<text x="442.8" y="403.1" font-size="11.1" font-family='"Liberation Serif", serif' fill="#111" text-anchor="middle">NC</text>
<text x="538.8" y="403.3" font-size="10.6" font-family='"Liberation Serif", serif' fill="#111" text-anchor="middle" textLength="50.5" lengthAdjust="spacingAndGlyphs">mimics-NC</text>
<text x="634.8" y="403.3" font-size="10.6" font-family='"Liberation Serif", serif' fill="#111" text-anchor="middle" textLength="91.3" lengthAdjust="spacingAndGlyphs">miR-199a-3p mimics</text>
<rect x="582.0" y="244.2" width="6.9" height="6.8" fill="#0f0f0f" stroke="none" stroke-width="1"/>
<rect x="582.0" y="257.6" width="6.9" height="6.8" fill="#b7cd97" stroke="none" stroke-width="1"/>
<text x="592.8" y="251.2" font-size="10.8" font-family='"Liberation Serif", serif' fill="#111" textLength="37" lengthAdjust="spacingAndGlyphs">DJ1 WT</text>
<text x="592.8" y="264.6" font-size="10.8" font-family='"Liberation Serif", serif' fill="#111" textLength="43.2" lengthAdjust="spacingAndGlyphs">DJ1 Mut2</text>
</svg>
</body></html>
